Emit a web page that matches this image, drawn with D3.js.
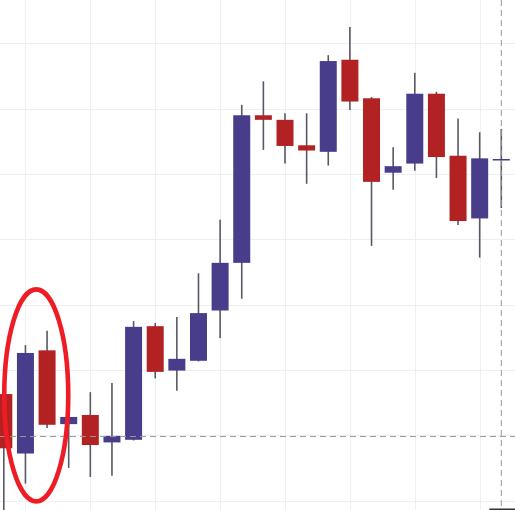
<!DOCTYPE html>
<html>
<head>
<meta charset="utf-8">
<script src="https://cdn.jsdelivr.net/npm/d3@7"></script>
<style>
  html, body { margin: 0; padding: 0; background: #fff; }
  svg { display: block; }
</style>
</head>
<body>
<div id="chart"></div>
<script>
// OHLC values, one entry per candle
const openVals  = [116.3, 107.2, 123.0, 111.7, 113.1, 108.9, 109.3, 126.7, 119.9, 121.4, 129.1, 136.4,
                   159.0, 158.3, 154.4, 153.4, 167.5, 161.6, 150.2, 151.6, 162.3, 152.8, 143.2, 152.2];
const highVals  = [116.4, 123.8, 126.0, 112.9, 116.6, 118.0, 127.5, 127.2, 128.1, 134.8, 143.0, 160.6,
                   164.2, 159.3, 159.3, 168.2, 172.5, 161.8, 154.1, 165.5, 162.6, 158.5, 156.4, 156.9];
const lowVals   = [97.0, 102.6, 111.1, 105.0, 103.6, 103.8, 109.2, 118.7, 116.8, 121.3, 124.9, 130.9,
                   153.7, 151.6, 148.5, 151.3, 159.8, 139.0, 147.6, 150.5, 149.4, 142.2, 137.2, 144.8];
const closeVals = [108.0, 122.6, 111.6, 112.8, 108.5, 109.9, 126.6, 119.7, 121.7, 128.7, 136.4, 159.0,
                   158.3, 154.3, 153.6, 167.3, 161.1, 148.8, 151.2, 162.3, 152.6, 142.8, 152.4, 152.3];

const priceTicks = [100, 110, 120, 130, 140, 150, 160, 170];
const timeTicks = [1, 4, 7, 10, 13, 16, 19, 22];

// crosshair position
const crossIndex = 23;
const crossPrice = 109.8;

const width = 515, height = 510;

const candles = openVals.map((o, i) => ({
  i: i, open: o, high: highVals[i], low: lowVals[i], close: closeVals[i]
}));

const x = d3.scaleLinear().domain([-0.176, 23.633]).range([0, width]);
const y = d3.scaleLinear().domain([98.55, 176.65]).range([height, 0]);

const svg = d3.select("#chart").append("svg")
  .attr("width", width)
  .attr("height", height);

// grid
svg.append("g").selectAll("line")
  .data(priceTicks)
  .enter().append("line")
  .attr("x1", 0).attr("x2", width)
  .attr("y1", d => Math.round(y(d)) + 0.5)
  .attr("y2", d => Math.round(y(d)) + 0.5)
  .attr("stroke", "#efefef");

svg.append("g").selectAll("line")
  .data(timeTicks)
  .enter().append("line")
  .attr("y1", 0).attr("y2", height)
  .attr("x1", d => Math.round(x(d)) + 0.5)
  .attr("x2", d => Math.round(x(d)) + 0.5)
  .attr("stroke", "#efefef");

const bodyW = 17;

// wicks
svg.append("g").selectAll("line")
  .data(candles)
  .enter().append("line")
  .attr("x1", d => x(d.i)).attr("x2", d => x(d.i))
  .attr("y1", d => y(d.high))
  .attr("y2", d => y(d.low))
  .attr("stroke", "#585866")
  .attr("stroke-width", 1.6);

// bodies
svg.append("g").selectAll("rect")
  .data(candles)
  .enter().append("rect")
  .attr("x", d => x(d.i) - bodyW / 2)
  .attr("width", bodyW)
  .attr("y", d => y(Math.max(d.open, d.close)))
  .attr("height", d => Math.max(1.5, Math.abs(y(d.open) - y(d.close))))
  .attr("fill", d => d.close >= d.open ? "#483d8b" : "#b22222");

// crosshair
svg.append("line")
  .attr("x1", 0).attr("x2", width)
  .attr("y1", y(crossPrice)).attr("y2", y(crossPrice))
  .attr("stroke", "#999")
  .attr("stroke-dasharray", "6,4");

svg.append("line")
  .attr("x1", x(crossIndex)).attr("x2", x(crossIndex))
  .attr("y1", 0).attr("y2", height)
  .attr("stroke", "#999")
  .attr("stroke-dasharray", "6,4");

// crosshair label peeking in at the bottom
svg.append("rect")
  .attr("x", x(crossIndex) - 12)
  .attr("y", height - 1.5)
  .attr("width", 26)
  .attr("height", 2)
  .attr("fill", "#333");

// highlight ellipse round the first candles
svg.append("ellipse")
  .attr("cx", (x(1) + x(2)) / 2)
  .attr("cy", y(116.1))
  .attr("rx", 32)
  .attr("ry", 106)
  .attr("fill", "none")
  .attr("stroke", "#ee1c24")
  .attr("stroke-width", 4.6);
</script>
</body>
</html>
